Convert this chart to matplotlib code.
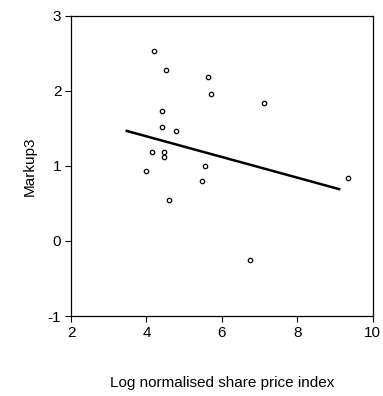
import matplotlib.pyplot as plt

plt.rcParams['font.family'] = ['Liberation Sans', 'DejaVu Sans']
plt.rcParams['axes.unicode_minus'] = False

# scatter data
share_index = [4.19, 4.51, 5.63, 5.72, 7.11, 4.40, 4.40, 4.79, 4.16, 4.47,
               4.47, 3.99, 5.54, 5.47, 4.59, 9.35, 6.74]
markup3 = [2.53, 2.28, 2.19, 1.96, 1.84, 1.735, 1.52, 1.47, 1.18, 1.19,
           1.12, 0.93, 0.995, 0.80, 0.55, 0.835, -0.25]

# fitted line end points
fit_x = [3.48, 9.11]
fit_y = [1.465, 0.69]

fig = plt.figure(figsize=(3.83, 3.96), dpi=100)
ax = fig.add_axes([71 / 383, 1 - 316 / 396, 301.7 / 383, 300.3 / 396])

ax.plot(fit_x, fit_y, color='black', linewidth=1.8)
ax.scatter(share_index, markup3, s=10, facecolors='white', edgecolors='black',
           linewidths=0.9, zorder=3)

ax.set_xlim(2, 10)
ax.set_ylim(-1, 3)
ax.set_xticks([2, 4, 6, 8, 10])
ax.set_yticks([-1, 0, 1, 2, 3])
ax.tick_params(direction='out', length=4, width=0.8, labelsize=11, pad=3,
               top=False, right=False)
for sp in ax.spines.values():
    sp.set_linewidth(0.9)

ax.set_xlabel('Log normalised share price index', fontsize=11, labelpad=26)
ax.set_ylabel('Markup3', fontsize=11, labelpad=8)

fig.savefig('out.png', dpi=100)
